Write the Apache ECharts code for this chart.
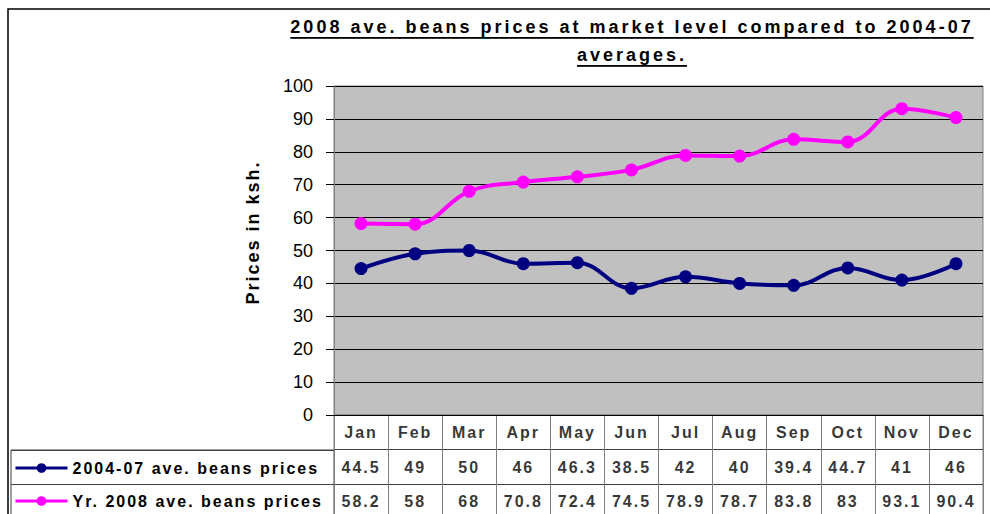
<!DOCTYPE html>
<html><head><meta charset="utf-8">
<script src="https://cdn.jsdelivr.net/npm/echarts@6/dist/echarts.min.js"></script>
<style>
html,body{margin:0;padding:0;background:#fff;}
#c{width:990px;height:514px;}
#c text[style*="bold"]{letter-spacing:2px;}
#c text[style*="bolder"]{letter-spacing:3px;text-decoration:underline;text-decoration-thickness:2px;text-underline-offset:3px;}
</style></head><body><div id="c"></div>
<script>
const months = ['Jan','Feb','Mar','Apr','May','Jun','Jul','Aug','Sep','Oct','Nov','Dec'];
const avg0407 = [44.5,49,50,46,46.3,38.5,42,40,39.4,44.7,41,46];
const yr2008 = [58.2,58,68,70.8,72.4,74.5,78.9,78.7,83.8,83,93.1,90.4];
const seriesNames = ['2004-07 ave. beans prices','Yr. 2008 ave. beans prices'];
const titleText = '2008 ave. beans prices at market level compared to 2004-07\naverages.';
const yAxisTitle = 'Prices in ksh.';
const rowKeys = ['hdr','r1','r2'];

const FONT = 'Liberation Sans, Arial, sans-serif';
const chart = echarts.init(document.getElementById('c'), null, {renderer:'svg'});
const tableData = [];
months.forEach((m,i)=>{
  tableData.push({value:[i,'hdr'], name:m});
  tableData.push({value:[i,'r1'], name:String(avg0407[i])});
  tableData.push({value:[i,'r2'], name:String(yr2008[i])});
});
const legendBase = {orient:'vertical', left:9, itemWidth:52, itemHeight:12, selectedMode:false,
  textStyle:{fontSize:16, fontWeight:'bold', color:'#000', fontFamily:FONT}, lineStyle:{width:3}};
const option = {
  animation:false,
  textStyle:{fontFamily:FONT},
  grid:[
    {left:334, top:86, width:649, height:329, show:true, backgroundColor:'#C0C0C0', borderColor:'#808080', borderWidth:1, containLabel:false, outerBoundsMode:'none'},
    {left:334, top:415, width:649, height:104, show:true, backgroundColor:'#fff', borderColor:'#808080', borderWidth:1, containLabel:false, outerBoundsMode:'none'},
    {left:11, top:450, width:323, height:69, show:true, backgroundColor:'#fff', borderColor:'#404040', borderWidth:1, containLabel:false, outerBoundsMode:'none'}
  ],
  xAxis:[
    {type:'category', gridIndex:0, data:months, boundaryGap:true, axisLine:{show:true, lineStyle:{color:'#000', width:1}}, axisTick:{show:false}, axisLabel:{show:false}, splitLine:{show:false}},
    {type:'category', gridIndex:1, data:months, boundaryGap:true, axisLine:{show:false}, axisTick:{show:false}, axisLabel:{show:false}, splitLine:{show:true, interval:0, lineStyle:{color:'#808080', width:1}}},
    {type:'value', gridIndex:2, show:false}
  ],
  yAxis:[
    {type:'value', gridIndex:0, min:0, max:100, interval:10, name:yAxisTitle, nameLocation:'middle', nameGap:72, nameRotate:90,
     nameTextStyle:{fontSize:18, fontWeight:'bold', color:'#000', fontFamily:FONT, padding:[0,0,0,36]},
     axisLine:{show:true, lineStyle:{color:'#808080'}}, axisTick:{show:true, length:8, lineStyle:{color:'#000'}},
     axisLabel:{fontSize:18, color:'#000', margin:21, fontFamily:FONT}, splitLine:{show:true, lineStyle:{color:'#000', width:1}}},
    {type:'category', gridIndex:1, data:rowKeys, inverse:true, axisLine:{show:false}, axisTick:{show:false}, axisLabel:{show:false}, splitLine:{show:true, interval:0, lineStyle:{color:'#404040'}}},
    {type:'category', gridIndex:2, data:['r1','r2'], inverse:true, axisLine:{show:false}, axisTick:{show:false}, axisLabel:{show:false}, splitLine:{show:true, interval:0, lineStyle:{color:'#404040'}}}
  ],
  legend:[
    Object.assign({}, legendBase, {data:[seriesNames[0]], top:455}),
    Object.assign({}, legendBase, {data:[seriesNames[1]], top:488})
  ],
  series:[
    {name:seriesNames[0], type:'line', xAxisIndex:0, yAxisIndex:0, data:avg0407, smooth:0.4, symbol:'circle', symbolSize:13,
     itemStyle:{color:'#000080'}, lineStyle:{color:'#000080', width:4}, emphasis:{disabled:true}},
    {name:seriesNames[1], type:'line', xAxisIndex:0, yAxisIndex:0, data:yr2008, smooth:0.4, symbol:'circle', symbolSize:13,
     itemStyle:{color:'#FF00FF'}, lineStyle:{color:'#FF00FF', width:4}, emphasis:{disabled:true}},
    {type:'scatter', xAxisIndex:1, yAxisIndex:1, data:tableData, symbolSize:0, silent:true,
     label:{show:true, position:'inside', formatter:p=>p.name, fontSize:16, fontWeight:'bold', color:'#000', fontFamily:FONT}}
  ],
  graphic:[
    {type:'rect', shape:{x:8,y:9,width:1000,height:600}, style:{fill:'none', stroke:'#000', lineWidth:1.5}, silent:true, z:100},
    {type:'text', x:632, y:13, silent:true, style:{text:titleText, fontSize:18, fontWeight:'bolder', fontFamily:FONT, fill:'#000', align:'center', verticalAlign:'top', lineHeight:28}}
  ]
};
chart.setOption(option);
</script></body></html>
